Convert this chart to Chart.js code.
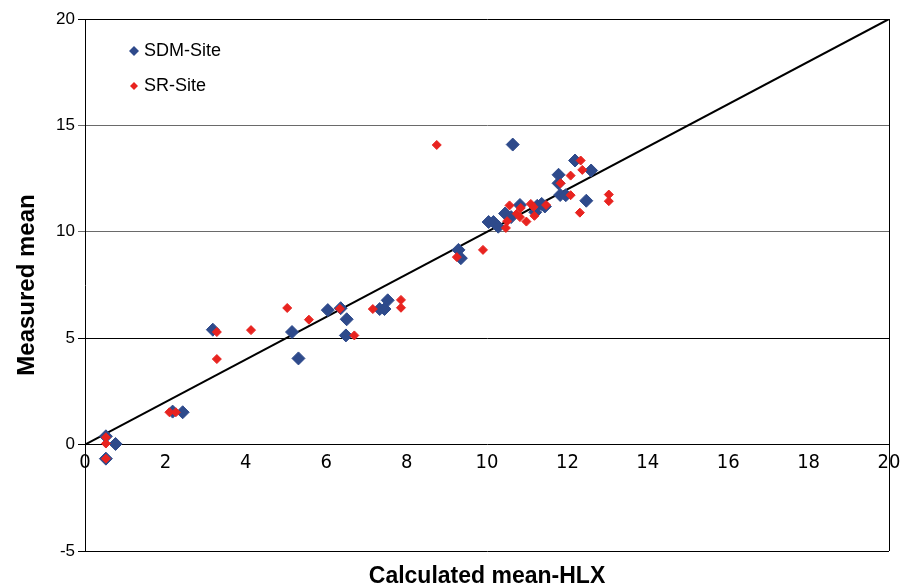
<!DOCTYPE html>
<html>
<head>
<meta charset="utf-8">
<script src="https://cdn.jsdelivr.net/npm/chart.js@4.4.1/dist/chart.umd.min.js"></script>
<style>
  html, body { margin: 0; padding: 0; background: #fff; }
  canvas { display: block; }
</style>
</head>
<body>
<canvas id="chart" width="902" height="588"></canvas>
<script>
// ===== DATA =====
const sdmX = [0.52, 0.52, 0.76, 2.18, 2.43, 3.18, 5.15, 5.31, 6.04, 6.36, 6.51, 6.49, 7.33, 7.45, 7.53,
  9.29, 9.35, 10.04, 10.16, 10.28, 10.45, 10.6, 10.64, 10.82, 11.2, 11.25, 11.36, 11.44,
  11.78, 11.78, 11.82, 11.96, 12.19, 12.47, 12.59];
const sdmY = [0.39, -0.66, 0.03, 1.55, 1.52, 5.4, 5.29, 4.05, 6.32, 6.41, 5.89, 5.13, 6.37, 6.37, 6.78,
  9.15, 8.76, 10.46, 10.46, 10.24, 10.86, 10.69, 14.1, 11.26, 10.92, 11.22, 11.31, 11.19,
  12.68, 12.28, 11.73, 11.72, 13.35, 11.46, 12.88];

const srX = [0.52, 0.52, 0.52, 2.1, 2.26, 3.28, 3.28, 4.13, 5.03, 5.57, 6.34, 6.7, 7.16, 7.86, 7.86,
  8.75, 9.25, 9.9, 10.47, 10.5, 10.56, 10.74, 10.82, 10.84, 10.98, 11.09, 11.16, 11.18, 11.47,
  11.83, 12.08, 12.08, 12.31, 12.33, 12.37, 13.03, 13.03];
const srY = [0.34, 0.05, -0.66, 1.52, 1.52, 5.29, 4.02, 5.38, 6.42, 5.87, 6.38, 5.13, 6.37, 6.8, 6.43,
  14.08, 8.81, 9.15, 10.18, 10.5, 11.24, 10.85, 10.69, 11.12, 10.48, 11.31, 11.17, 10.75, 11.26,
  12.28, 12.64, 11.72, 10.9, 13.35, 12.91, 11.75, 11.44];

// 1:1 reference line
const lineX = [0, 20];
const lineY = [0, 20];

const seriesNames = ['SDM-Site', 'SR-Site'];
const xTitle = 'Calculated mean-HLX';
const yTitle = 'Measured mean';

const BLUE = '#2E4A8B';
const RED  = '#E8231F';

const toPts = (xs, ys) => xs.map((x, i) => ({ x, y: ys[i] }));

// legend drawn inside the plot, top-left
const insideLegend = {
  id: 'insideLegend',
  afterDraw(chart) {
    const { ctx, chartArea } = chart;
    const items = [
      { text: seriesNames[0], color: BLUE, r: 5, y: chartArea.top + 32 },
      { text: seriesNames[1], color: RED,  r: 4, y: chartArea.top + 67 }
    ];
    ctx.save();
    ctx.font = '18px "Liberation Sans", Arial, sans-serif';
    ctx.textBaseline = 'middle';
    items.forEach(it => {
      const cx = chartArea.left + 49;
      ctx.beginPath();
      ctx.moveTo(cx, it.y - it.r);
      ctx.lineTo(cx + it.r, it.y);
      ctx.lineTo(cx, it.y + it.r);
      ctx.lineTo(cx - it.r, it.y);
      ctx.closePath();
      ctx.fillStyle = it.color;
      ctx.fill();
      ctx.fillStyle = '#000';
      ctx.fillText(it.text, chartArea.left + 59, it.y);
    });
    ctx.restore();
  }
};

new Chart(document.getElementById('chart'), {
  type: 'scatter',
  data: {
    datasets: [
      { label: seriesNames[1], data: toPts(srX, srY), order: 0,
        pointStyle: 'rectRot', pointRadius: 4.5, pointBorderWidth: 1,
        backgroundColor: RED, borderColor: RED },
      { label: seriesNames[0], data: toPts(sdmX, sdmY), order: 1,
        pointStyle: 'rectRot', pointRadius: 6.5, pointBorderWidth: 1,
        backgroundColor: BLUE, borderColor: BLUE },
      { label: '1:1', data: toPts(lineX, lineY), order: 2, showLine: true,
        pointRadius: 0, borderColor: '#000', borderWidth: 2, backgroundColor: '#000' }
    ]
  },
  options: {
    responsive: false,
    animation: false,
    devicePixelRatio: 1,
    layout: { padding: { top: 19, right: 13, left: 0, bottom: 0 } },
    plugins: { legend: { display: false }, tooltip: { enabled: false } },
    scales: {
      x: {
        type: 'linear', position: 'bottom', min: 0, max: 20,
        ticks: { display: false },
        grid: { display: false },
        border: { display: false },
        title: {
          display: true, text: xTitle, color: '#000',
          font: { family: '"Liberation Sans", Arial, sans-serif', size: 23, weight: 'bold', lineHeight: 1 },
          padding: { top: 0, bottom: 0 }
        },
        afterFit: s => { s.height = 37; s.paddingLeft = 0; s.paddingRight = 0; }
      },
      x2: {
        axis: 'x', type: 'linear', position: { y: 0 }, min: 0, max: 20,
        ticks: { stepSize: 2, color: '#000', padding: 6,
          font: { family: '"Liberation Sans Narrow", "DejaVu Sans Condensed", Arial, sans-serif', size: 20 } },
        grid: { drawTicks: false, lineWidth: 1,
          color: c => (c.tick && c.tick.value === 20 ? '#000' : 'rgba(0,0,0,0)') },
        border: { display: false },
        afterFit: s => { s.height = 0; s.paddingLeft = 0; s.paddingRight = 0; }
      },
      y: {
        type: 'linear', position: 'left', min: -5, max: 20,
        ticks: { stepSize: 5, color: '#000', padding: 3,
          font: { family: '"Liberation Sans", Arial, sans-serif', size: 17 } },
        grid: { tickLength: 7, lineWidth: 1,
          color: c => (c.tick && (c.tick.value === 15 || c.tick.value === 10) ? '#6a6a6a' : '#000') },
        border: { display: true, color: '#000', width: 1 },
        title: {
          display: true, text: yTitle, color: '#000',
          font: { family: '"Liberation Sans", Arial, sans-serif', size: 24, weight: 'bold', lineHeight: 1 },
          padding: { top: 15, bottom: 0 }
        },
        afterFit: s => { s.width = 85; s.paddingTop = 0; s.paddingBottom = 0; }
      }
    }
  },
  plugins: [insideLegend]
});
</script>
</body>
</html>
